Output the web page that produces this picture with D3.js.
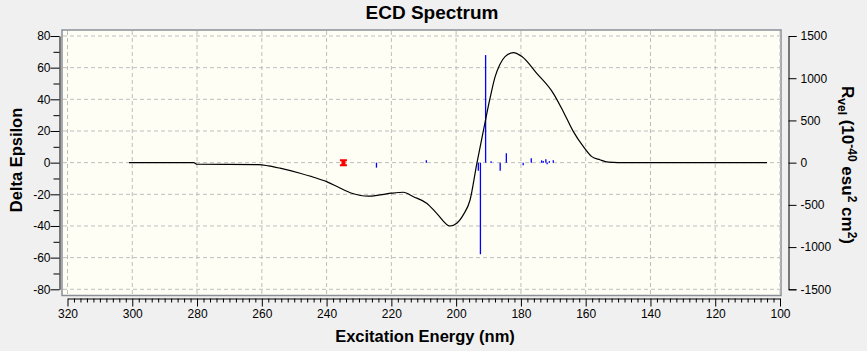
<head>
    <meta charset="utf-8">
    <script src="https://d3js.org/d3.v7.min.js"></script>
    <style>
        body { margin: 0; background: #f0f0f0; }
        svg { display: block; font-family: "Liberation Sans", Arial, sans-serif; }
        .tick text { font-size: 12px; fill: #000; }
    </style>
</head>
<body>
    <svg></svg>
    <script>
        // ECD curve (wavelength nm, delta epsilon)
        const curveNm = [301, 281, 280, 261, 258, 254.4, 248.2, 244, 240, 235.9, 232.2, 227.1, 223.5, 219.9,
            216.3, 213.2, 209.1, 206.0, 201.9, 199.8, 197.8, 195.7, 193.6, 191.6, 189.5, 188.0, 186.5, 184.9,
            182.3, 179.7, 175.1, 170.0, 166.9, 163.8, 160.7, 158.1, 155.6, 153.0, 150, 104]
        const curveEps = [0, 0, -1, -1.2, -2, -3.5, -6.7, -9.2, -12, -16, -19.3, -21.2, -20.4, -19.3,
            -18.7, -21.5, -25.6, -32, -40, -38.3, -33, -23.6, -0.4, 20, 41, 54, 62, 67,
            69.5, 67, 56.4, 43.8, 32.2, 19.6, 10.1, 3.8, 1.8, 0.3, 0, 0]

        // rotatory strengths (nm, R vel)
        const stickNm = [224.6, 209.2, 193.15, 192.5, 190.9, 189.2, 186.4, 184.5, 179.3, 176.8, 173.6, 173.1, 172.3, 171.9, 171.2, 170.0]
        const stickR = [-59, 27, -95, -1085, 1274, 16, -95, 110, -30, 51, 27, 20, 39, -20, 18, 27]

        const markerNm = [234.8]

        const xTicks = [320, 300, 280, 260, 240, 220, 200, 180, 160, 140, 120, 100]
        const yTicks = [80, 60, 40, 20, 0, -20, -40, -60, -80]
        const rTicks = [1500, 1000, 500, 0, -500, -1000, -1500]

        const width = 867, height = 351

        const svg = d3.select('svg').attr('width', width).attr('height', height)

        const x = d3.scaleLinear().domain([320, 100]).range([67.5, 780])
        const y = d3.scaleLinear().domain([-80, 80]).range([289.3, 36])
        const yR = d3.scaleLinear().domain([-1500, 1500]).range([289.3, 36])

        // plot area
        svg.append('rect')
            .attr('x', 62).attr('y', 30).attr('width', 719).attr('height', 265.5)
            .attr('fill', '#fefef5').attr('stroke', '#8a8e96').attr('stroke-width', 1.5)

        // grid
        svg.append('g').selectAll('line').data(xTicks).enter().append('line')
            .attr('x1', d => x(d)).attr('x2', d => x(d)).attr('y1', 31).attr('y2', 294.5)
            .attr('stroke', '#bdbdbd').attr('stroke-dasharray', '4,3')
        svg.append('g').selectAll('line').data(yTicks).enter().append('line')
            .attr('x1', 63).attr('x2', 780).attr('y1', d => y(d)).attr('y2', d => y(d))
            .attr('stroke', '#bdbdbd').attr('stroke-dasharray', '4,3')

        // sticks
        svg.append('g').selectAll('line').data(stickNm).enter().append('line')
            .attr('x1', d => x(d)).attr('x2', d => x(d))
            .attr('y1', yR(0)).attr('y2', (d, i) => yR(stickR[i]))
            .attr('stroke', '#0000ff').attr('stroke-width', 1.3)

        // red marker
        svg.append('g').selectAll('path').data(markerNm).enter().append('path')
            .attr('transform', d => 'translate(' + x(d) + ',' + y(0) + ')')
            .attr('d', 'M-3.5,-3.3 H3.5 V-1.5 H2 V1.5 H3.5 V3.5 H-3.5 V1.5 H-2 V-1.5 H-3.5 Z')
            .attr('fill', '#ff0000')

        // curve
        const line = d3.line()
            .x((d, i) => x(curveNm[i]))
            .y(d => y(d))
            .curve(d3.curveMonotoneX)
        svg.append('path')
            .datum(curveEps)
            .attr('d', line)
            .attr('fill', 'none').attr('stroke', '#000').attr('stroke-width', 1.2)

        // axes
        const leftAxis = d3.axisLeft(y).tickValues(d3.range(-80, 81, 10))
            .tickFormat(d => d % 20 === 0 ? String(d) : '')
            .tickSizeOuter(0).tickPadding(3)
        const gl = svg.append('g').attr('transform', 'translate(59.5,0)').call(leftAxis)
        gl.selectAll('.tick line').attr('x2', d => d % 20 === 0 ? -9 : -6)

        const bottomAxis = d3.axisBottom(x).tickValues(d3.range(100, 321, 2))
            .tickFormat(d => d % 20 === 0 ? String(d) : '')
            .tickSizeOuter(0).tickPadding(4)
        const gb = svg.append('g').attr('transform', 'translate(0,298.5)').call(bottomAxis)
        gb.selectAll('.tick line').attr('y2', d => d % 20 === 0 ? 8 : 4)
        gb.selectAll('.tick text').attr('y', 11)

        const rightAxis = d3.axisRight(yR).tickValues(rTicks).tickFormat(d => String(d))
            .tickSizeOuter(0).tickSize(8).tickPadding(4)
        svg.append('g').attr('transform', 'translate(788.5,0)').call(rightAxis)

        svg.selectAll('.domain').attr('stroke', '#000')

        // titles
        svg.append('text').attr('x', 432).attr('y', 19).attr('text-anchor', 'middle')
            .style('font-size', '19px').style('font-weight', 'bold').text('ECD Spectrum')
        svg.append('text').attr('x', 425).attr('y', 342).attr('text-anchor', 'middle')
            .style('font-size', '16.5px').style('font-weight', 'bold').text('Excitation Energy (nm)')
        svg.append('text').attr('transform', 'translate(22,160) rotate(-90)').attr('text-anchor', 'middle')
            .style('font-size', '16.5px').style('font-weight', 'bold').text('Delta Epsilon')

        const rt = svg.append('text').attr('transform', 'translate(842,165) rotate(90)').attr('text-anchor', 'middle')
            .style('font-size', '17px').style('font-weight', 'bold')
        rt.append('tspan').text('R')
        rt.append('tspan').attr('dy', 4).style('font-size', '12px').text('vel')
        rt.append('tspan').attr('dy', -4).text(' (10')
        rt.append('tspan').attr('dy', -6).style('font-size', '12px').text('-40')
        rt.append('tspan').attr('dy', 6).text(' esu')
        rt.append('tspan').attr('dy', -6).style('font-size', '12px').text('2')
        rt.append('tspan').attr('dy', 6).text(' cm')
        rt.append('tspan').attr('dy', -6).style('font-size', '12px').text('2')
        rt.append('tspan').attr('dy', 6).text(')')
    </script>
</body>
